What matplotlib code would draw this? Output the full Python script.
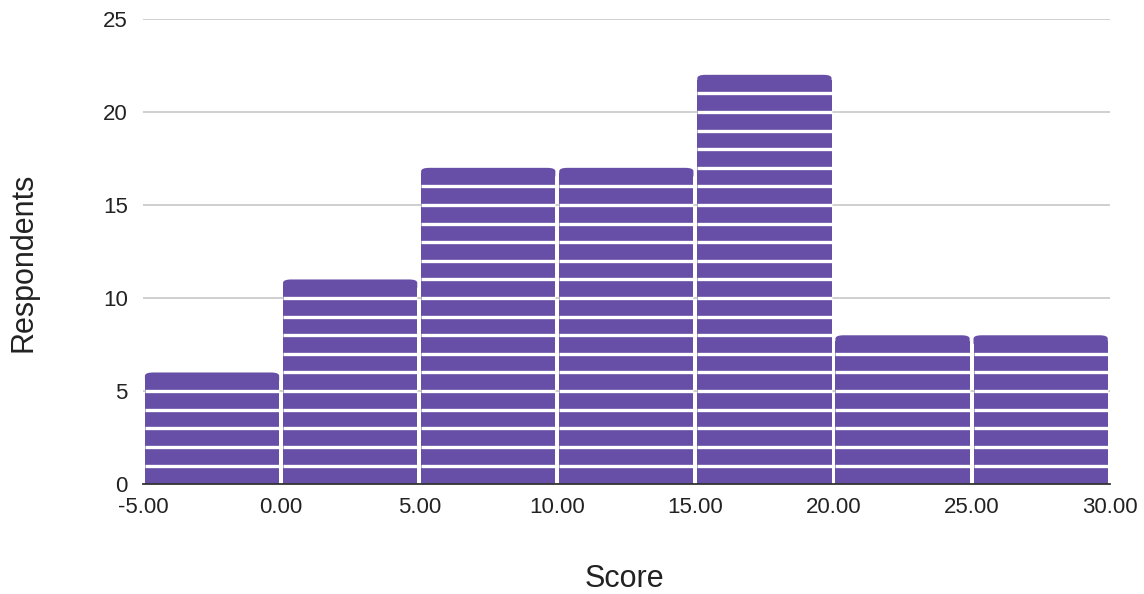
import matplotlib
matplotlib.use("Agg")
import matplotlib.pyplot as plt
from matplotlib.patches import FancyBboxPatch

plt.rcParams['font.family'] = ['Liberation Sans', 'DejaVu Sans']

bin_edges = [-5, 0, 5, 10, 15, 20, 25, 30]
counts = [6, 11, 17, 17, 22, 8, 8]
x_tick_labels = ["-5.00", "0.00", "5.00", "10.00", "15.00", "20.00", "25.00", "30.00"]
y_ticks = [0, 5, 10, 15, 20, 25]

color = "#674ea7"

fig = plt.figure(figsize=(11.44, 5.94), dpi=100)
ax = fig.add_axes([0.125, 0.185, 0.845, 0.783])

ax.set_xlim(-5, 30)
ax.set_ylim(0, 25)

for y in y_ticks[1:]:
    ax.axhline(y, color="#cccccc", linewidth=1.3, zorder=1)

gap_x = 0.14
for i, c in enumerate(counts):
    left = bin_edges[i] + gap_x / 2
    w = bin_edges[i + 1] - bin_edges[i] - gap_x
    ax.bar(left, c - 0.3, width=w, bottom=0, align='edge', color=color, linewidth=0, zorder=2)
    cap = FancyBboxPatch((left, c - 0.6), w, 0.6,
                         boxstyle="round,pad=0,rounding_size=0.3",
                         mutation_aspect=1.0 / 1.5 * 0.9,
                         facecolor=color, edgecolor='none', zorder=2)
    ax.add_patch(cap)
    for k in range(1, c):
        ax.plot([left, left + w], [k, k], color="white", linewidth=2.4,
                solid_capstyle='butt', zorder=3)

ax.set_xticks(bin_edges)
ax.set_xticklabels(x_tick_labels)
ax.set_yticks(y_ticks)
ax.tick_params(axis='both', length=0, labelsize=16, colors="#222222")
ax.tick_params(axis='x', pad=9)
ax.tick_params(axis='y', pad=11)

for s in ['top', 'right', 'left']:
    ax.spines[s].set_visible(False)
ax.spines['bottom'].set_color("#333333")
ax.spines['bottom'].set_linewidth(1.3)
ax.spines['bottom'].set_zorder(4)

ax.set_xlabel("Score", fontsize=22, color="#222222", va='center', ha='center')
ax.xaxis.set_label_coords(0.498, -0.204)
ax.set_ylabel("Respondents", fontsize=22, color="#222222", va='center', ha='center')
ax.yaxis.set_label_coords(-0.124, 0.477)

fig.savefig("out.png", dpi=100)
